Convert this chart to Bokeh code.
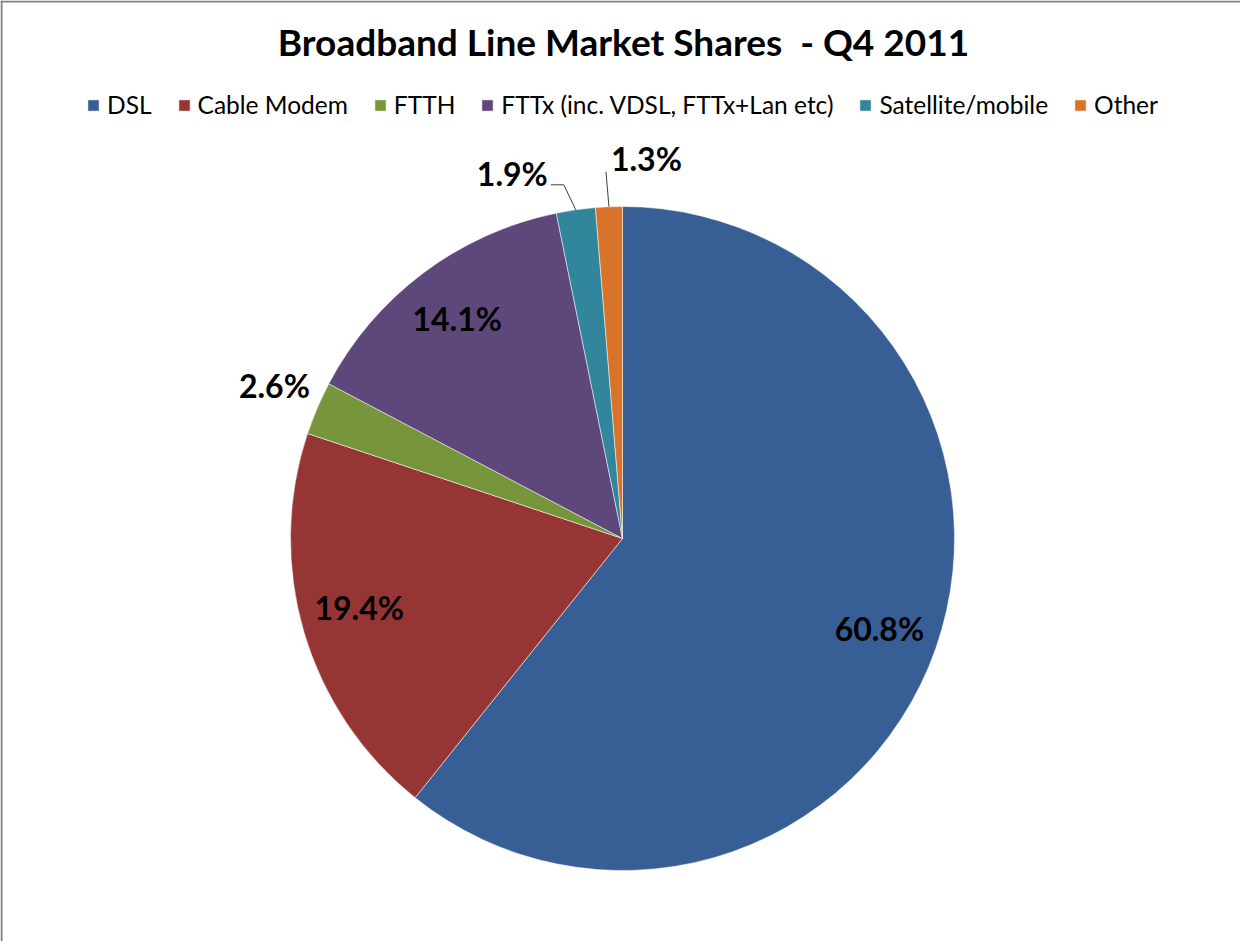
import math
from bokeh.plotting import figure
from bokeh.models import Range1d, Legend, LegendItem, ColumnDataSource
from bokeh.core.properties import value
from bokeh.embed import file_html
from bokeh.resources import INLINE

# ---- data ----
categories = ["DSL", "Cable Modem", "FTTH", "FTTx (inc. VDSL, FTTx+Lan etc)",
              "Satellite/mobile", "Other"]
shares = [60.8, 19.4, 2.6, 14.1, 1.9, 1.3]
share_labels = ["60.8%", "19.4%", "2.6%", "14.1%", "1.9%", "1.3%"]
colors = ["#385E96", "#963634", "#77963C", "#5E477B", "#31869B", "#D9732A"]
title_text = "Broadband Line Market Shares  - Q4 2011"

# ---- layout (screen-like units: 1 unit = 1 px) ----
W, H = 1240, 941
CX, CY, R = 622, 403, 332
FONT = "Lato"

p = figure(width=W, height=H, x_range=Range1d(0, W), y_range=Range1d(0, H),
           output_backend="svg", toolbar_location=None,
           x_axis_location=None, y_axis_location=None, min_border=0)
p.grid.visible = False
p.outline_line_color = None
p.background_fill_color = "white"
p.border_fill_color = "white"

# wedges (clockwise from 12 o'clock)
total = sum(shares)
starts, ends, mids = [], [], []
cum = 0.0
for s in shares:
    a0 = math.pi / 2 - 2 * math.pi * cum / total
    a1 = math.pi / 2 - 2 * math.pi * (cum + s) / total
    starts.append(a0)
    ends.append(a1)
    mids.append((a0 + a1) / 2)
    cum += s

src = ColumnDataSource(dict(start=starts, end=ends, color=colors, cat=categories))
wr = p.wedge(x=CX, y=CY, radius=R, start_angle="start", end_angle="end",
             direction="clock", fill_color="color", line_color="white",
             line_alpha=0.5, line_width=1, source=src)

# labels
inside = {0: (0.82, 0.0), 1: (0.82, -0.03), 3: (0.83, 0.0)}
lx, ly, la, ltxt = [], [], [], []
seg_x0, seg_y0, seg_x1, seg_y1 = [], [], [], []
for i, m in enumerate(mids):
    ex, ey = CX + R * math.cos(m), CY + R * math.sin(m)
    if i in inside:
        f, da = inside[i]
        lx.append(CX + f * R * math.cos(m + da)); ly.append(CY + f * R * math.sin(m + da))
        la.append("center")
    elif i == 2:
        f = 1.14
        lx.append(CX + f * R * math.cos(m)); ly.append(CY + f * R * math.sin(m) + 4)
        la.append("center")
    elif i == 4:
        # leader line with elbow, label to the left
        bx, by = ex - 12, ey + 25
        seg_x0 += [ex, bx]; seg_y0 += [ey, by]
        seg_x1 += [bx, bx - 13]; seg_y1 += [by, by]
        lx.append(bx - 16); ly.append(by + 11); la.append("right")
    else:
        # vertical leader, label to the right
        bx, by = ex - 3, ey + 35
        seg_x0.append(ex); seg_y0.append(ey)
        seg_x1.append(bx); seg_y1.append(by)
        lx.append(bx + 5); ly.append(by + 13); la.append("left")
    ltxt.append(share_labels[i])

p.segment(x0=seg_x0, y0=seg_y0, x1=seg_x1, y1=seg_y1, line_color="#404040",
          line_width=1)
p.text(x=lx, y=ly, text=ltxt, text_align=la, text_baseline="middle",
       text_font=value(FONT), text_font_style="bold", text_font_size="32px",
       text_color="black")

# title (keep the double space visible in SVG)
p.text(x=[W / 2 + 3], y=[H - 41], text=[title_text.replace("  ", "\u00a0 ")],
       text_align="center", text_baseline="middle", text_font=value(FONT),
       text_font_style="bold", text_font_size="37px", text_color="black")

# chart-area border (left & top visible)
p.segment(x0=[1, 0], y0=[0, H - 1], x1=[1, W], y1=[H, H - 1],
          line_color="#7F7F7F", line_width=2)

# legend
items = [LegendItem(label=c, renderers=[wr], index=i) for i, c in enumerate(categories)]
legend = Legend(items=items, orientation="horizontal", location=(86, 822),
                label_text_font=FONT, label_text_font_size="24.5px",
                label_text_color="black", glyph_width=14, glyph_height=14,
                label_standoff=7, spacing=25, padding=0, margin=0,
                border_line_color=None, background_fill_alpha=0)
p.add_layout(legend, "center")

open("out.html", "w").write(file_html(p, INLINE))
